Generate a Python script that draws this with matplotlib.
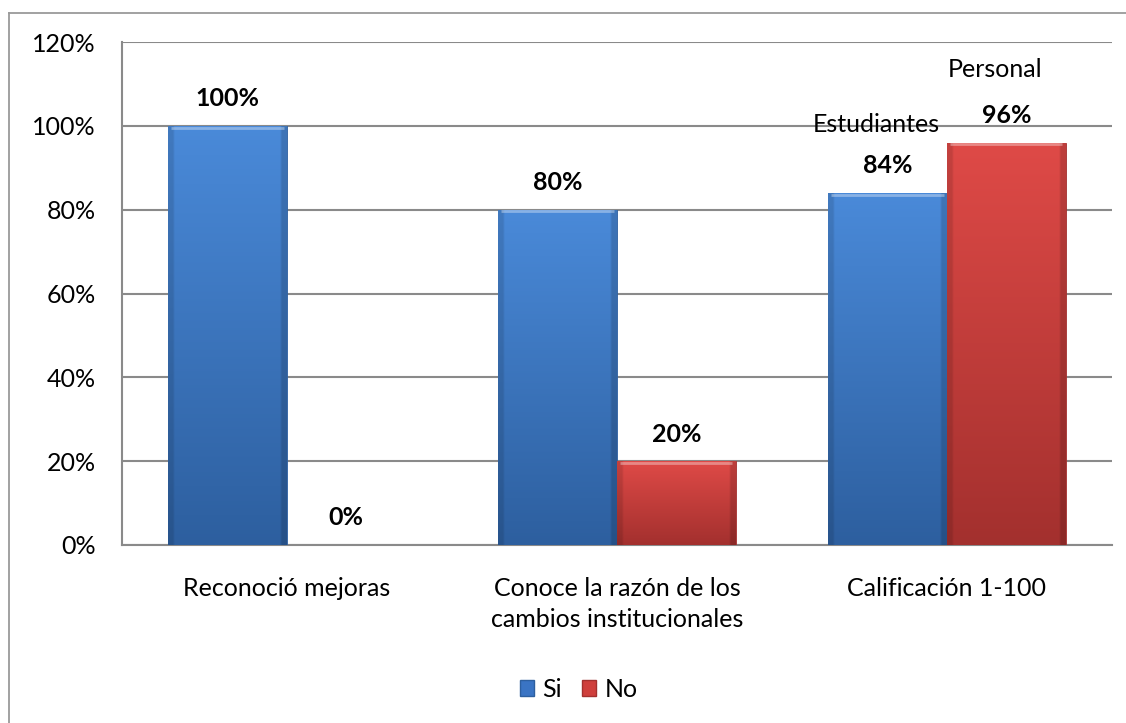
import numpy as np
import matplotlib.pyplot as plt
from matplotlib.patches import Patch
from matplotlib.lines import Line2D

categories = ["Reconoció mejoras", "Conoce la razón de los\ncambios institucionales", "Calificación 1-100"]
si = [100, 80, 84]
no = [0, 20, 96]
series_names = ["Si", "No"]
extra_labels = {(2, 0): "Estudiantes", (2, 1): "Personal"}
yticks = [0, 20, 40, 60, 80, 100, 120]

plt.rcParams['font.family'] = ['Lato', 'DejaVu Sans']
fs = 18

colors = {
    "Si": ("#4a8ad9", "#2d5f9f", "#3a74c4"),
    "No": ("#df4a47", "#a3302e", "#cf3f3c"),
}


def hex2rgb(h):
    h = h.lstrip('#')
    return np.array([int(h[i:i + 2], 16) / 255 for i in (0, 2, 4)])


def gradient(top, bottom):
    t, b = hex2rgb(top), hex2rgb(bottom)
    ny, nx = 200, 60
    yy = np.linspace(0, 1, ny)[:, None, None]
    img = t * (1 - yy) + b * yy
    img = np.repeat(img, nx, axis=1)
    # bevel: darken sides slightly
    xx = np.linspace(0, 1, nx)
    side = np.ones(nx)
    side[xx < 0.04] = 0.88
    side[xx > 0.96] = 0.85
    img = img * side[None, :, None]
    return np.clip(img, 0, 1)


fig = plt.figure(figsize=(11.26, 7.23), dpi=100)
ax = fig.add_axes([0.1083, 0.2462, 0.8792, 0.6957])

n = len(categories)
x = np.arange(n)
w = 0.36

for k, (name, vals) in enumerate(zip(series_names, [si, no])):
    top, bottom, mid = colors[name]
    img = gradient(top, bottom)
    offs = -w / 2 if k == 0 else w / 2
    bars = ax.bar(x + offs, vals, w, color=mid, edgecolor=bottom, linewidth=0.6, zorder=3)
    for i, (b, v) in enumerate(zip(bars, vals)):
        if v > 0:
            im = ax.imshow(img, extent=[b.get_x(), b.get_x() + w, 0, v],
                           aspect='auto', zorder=3.5, interpolation='bilinear')
            im.set_clip_path(b)
            # top highlight
            ax.plot([b.get_x() + 0.01, b.get_x() + w - 0.01], [v - 0.4, v - 0.4],
                    color="white", alpha=0.35, lw=2, zorder=4, solid_capstyle='butt')
        ax.annotate(f"{v}%", (b.get_x() + w / 2, v), xytext=(0, 19.5),
                    textcoords='offset points', ha='center', va='center',
                    fontsize=fs, fontweight='bold', zorder=5)
        if (i, k) in extra_labels:
            dy = 49 if k == 0 else 52.5
            ax.annotate(extra_labels[(i, k)], (b.get_x() + w / 2, v), xytext=(-8, dy),
                        textcoords='offset points', ha='center', va='center',
                        fontsize=fs, zorder=5)

ax.set_xlim(-0.5, n - 0.5)
ax.set_ylim(0, 120)
ax.set_yticks(yticks)
ax.set_yticklabels([f"{t}%" for t in yticks], fontsize=fs)
ax.set_xticks(x)
ax.set_xticklabels(categories, fontsize=fs, linespacing=1.45)
ax.tick_params(axis='y', length=0, pad=19)
ax.tick_params(axis='x', length=0, pad=23)
ax.grid(axis='y', color="#8a8a8a", lw=1.5, zorder=1)
ax.set_axisbelow(True)
for s in ['top', 'right']:
    ax.spines[s].set_visible(False)
for s in ['left', 'bottom']:
    ax.spines[s].set_color("#8a8a8a")
    ax.spines[s].set_linewidth(1.5)

handles = [Patch(facecolor=colors[s][2], edgecolor=colors[s][1]) for s in series_names]
fig.legend(handles, series_names, loc='center', bbox_to_anchor=(0.514, 0.047), ncol=2,
           frameon=False, fontsize=fs, handlelength=0.55, handleheight=0.6,
           handletextpad=0.35, columnspacing=0.8)

# outer chart border (cropped at right and bottom)
fig.add_artist(Line2D([9 / 1126, 9 / 1126], [0, 1 - 13 / 723], color="#9a9a9a", lw=1.3,
                      transform=fig.transFigure))
fig.add_artist(Line2D([9 / 1126, 1], [1 - 13 / 723, 1 - 13 / 723], color="#9a9a9a", lw=1.3,
                      transform=fig.transFigure))

fig.savefig("out.png", dpi=100)
